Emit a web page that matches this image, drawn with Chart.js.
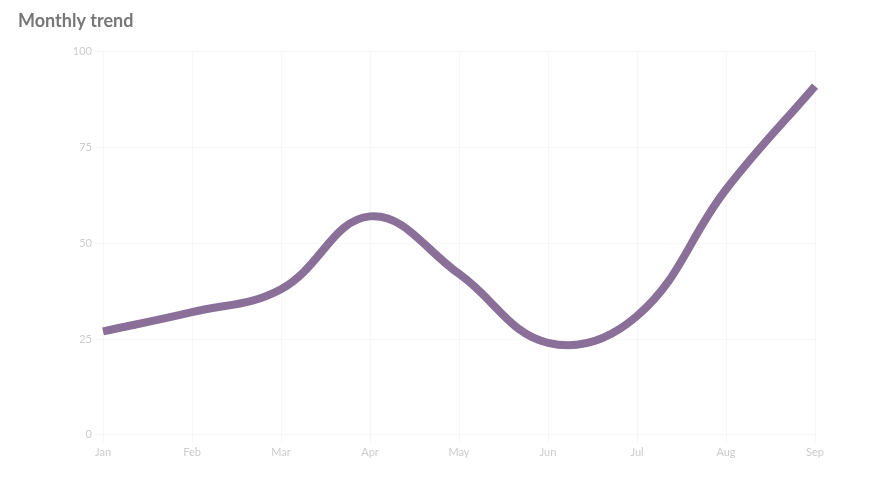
<!DOCTYPE html>
<html>
<head>
<meta charset="utf-8">
<script src="https://cdn.jsdelivr.net/npm/chart.js@4"></script>
<style>
  html, body { margin: 0; padding: 0; background: #fff; }
  #wrap { width: 890px; height: 482px; }
</style>
</head>
<body>
<div id="wrap"><canvas id="chartLinha"></canvas></div>
<script>
// ===== DADOS =====
const meses = ['Jan', 'Feb', 'Mar', 'Apr', 'May', 'Jun', 'Jul', 'Aug', 'Sep'];
const valores = [27, 32, 38, 57, 42, 24, 31, 64, 91];
const ticksY = [0, 25, 50, 75, 100];

// ===== GRÁFICO =====
const ctx = document.getElementById('chartLinha').getContext('2d');
new Chart(ctx, {
    type: 'line',
    data: {
        labels: meses,
        datasets: [{
            label: 'Value',
            data: valores,
            borderColor: '#8a6f99',
            backgroundColor: '#8a6f99',
            borderWidth: 8,
            tension: 0.4,
            pointRadius: 0,
            fill: false
        }]
    },
    options: {
        responsive: true,
        maintainAspectRatio: false,
        animation: false,
        layout: { padding: { left: 18, right: 75, top: 10, bottom: 20 } },
        plugins: {
            legend: { display: false },
            title: {
                display: true,
                text: 'Monthly trend',
                align: 'start',
                color: '#777',
                font: { family: 'Lato', size: 18, weight: 'bold' },
                padding: { bottom: 20 }
            }
        },
        scales: {
            y: {
                min: 0,
                max: 100,
                afterBuildTicks: axis => { axis.ticks = ticksY.map(v => ({ value: v })); },
                afterFit: axis => { axis.width = 85; },
                grid: { color: 'rgba(200, 200, 200, 0.15)' },
                border: { display: false },
                ticks: { color: '#ccc', font: { family: 'Lato', size: 11 } }
            },
            x: {
                grid: { color: 'rgba(200, 200, 200, 0.15)' },
                border: { display: false },
                ticks: { color: '#ccc', font: { family: 'Lato', size: 11 } }
            }
        }
    }
});
</script>
</body>
</html>
